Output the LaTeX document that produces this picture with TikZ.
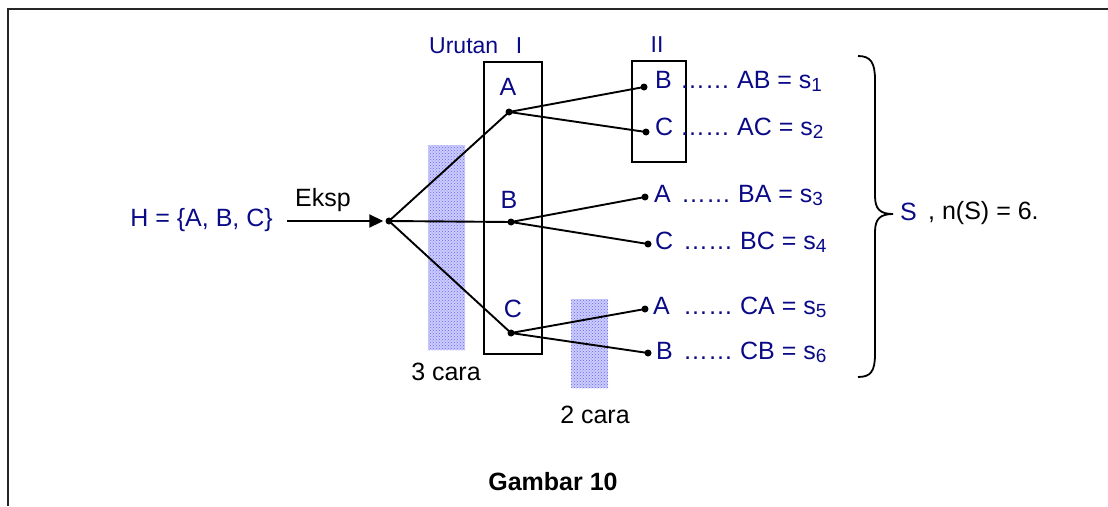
\documentclass[tikz,border=0pt]{standalone}
\usepackage{fontspec}
\setmainfont{Liberation Sans}
\usetikzlibrary{patterns,arrows.meta}
\definecolor{navy}{RGB}{10,10,135}
\definecolor{bandfill}{RGB}{205,205,250}
% lowered small digit for the outcome indices
\newcommand{\idx}[1]{\raisebox{-3pt}{\fontsize{19}{19}\selectfont #1}}

\begin{document}
\begin{tikzpicture}[x=1pt,y=-1pt,
  txt/.style={font=\fontsize{25}{30}\selectfont, inner sep=0pt},
  lbl/.style={txt, text=navy},
  link/.style={line width=1.9pt},
  dot/.style={circle, fill=black, inner sep=0pt, minimum size=7pt},
  stage/.style={draw, line width=1.5pt, inner sep=0pt},
  frame/.style={line width=1.8pt, draw=black!85}]

\useasboundingbox (0,0) rectangle (1108,506);

% outer frame (top and left sides)
\draw[frame] (8,506) -- (8,9) -- (1108,9);

% shaded bands marking the number of choices
\fill[bandfill] (428,145) rectangle (465,350);
\fill[pattern=crosshatch dots, pattern color=blue!60] (428,145) rectangle (465,350);
\fill[bandfill] (571,299) rectangle (608,388);
\fill[pattern=crosshatch dots, pattern color=blue!60] (571,299) rectangle (608,388);

% stage boxes
\node[stage, minimum width=58pt, minimum height=292pt] (box1) at (513,208) {};
\node[stage, minimum width=54pt, minimum height=101pt] (box2) at (659,111.5) {};

% headings
\node[lbl, font=\fontsize{23}{28}\selectfont, anchor=base west] (urutan) at (429,53) {Urutan};
\node[lbl, font=\fontsize{23}{28}\selectfont, anchor=base] (one) at (519,53) {I};
\node[lbl, font=\fontsize{23}{28}\selectfont, anchor=base] (two) at (657,52) {II};

% experiment
\node[lbl, anchor=base east] (H) at (273,226) {H = \{A, B, C\}};
\node[txt, anchor=base] (eksp) at (323,206) {Eksp};
\coordinate (start) at (287,221);

% tree nodes
\node[dot] (r) at (389,221) {};
\node[dot] (a1) at (509,112) {};
\node[dot] (b1) at (511,222) {};
\node[dot] (c1) at (511,333) {};

\node[dot] (ab) at (644,87) {};
\node[dot] (ac) at (646,132) {};
\node[dot] (ba) at (645,197) {};
\node[dot] (bc) at (648,244) {};
\node[dot] (ca) at (645,309) {};
\node[dot] (cb) at (648,353) {};

% first-stage letters
\node[lbl, anchor=base] (lA) at (508,95) {A};
\node[lbl, anchor=base] (lB) at (509,208) {B};
\node[lbl, anchor=base] (lC) at (513,317) {C};

% connectors
\draw[link, -{Triangle[length=14pt, width=13pt]}, shorten >=2pt] (start) -- (r);
\draw[link] (r.center) -- (a1.center);
\draw[link] (r.center) -- (b1.center);
\draw[link] (r.center) -- (c1.center);
\draw[link] (a1.center) -- (ab.center);
\draw[link] (a1.center) -- (ac.center);
\draw[link] (b1.center) -- (ba.center);
\draw[link] (b1.center) -- (bc.center);
\draw[link] (c1.center) -- (ca.center);
\draw[link] (c1.center) -- (cb.center);

% second-stage letters
\node[lbl, anchor=base west] (sB1) at (655,88)  {B};
\node[lbl, anchor=base west] (sC1) at (655,135) {C};
\node[lbl, anchor=base west] (sA2) at (654,202) {A};
\node[lbl, anchor=base west] (sC2) at (655,249) {C};
\node[lbl, anchor=base west] (sA3) at (653,314) {A};
\node[lbl, anchor=base west] (sB3) at (656,359) {B};

% resulting outcomes
\node[lbl, anchor=base west] (oAB) at (680,88)  {…… AB = s\idx{1}};
\node[lbl, anchor=base west] (oAC) at (680,135) {…… AC = s\idx{2}};
\node[lbl, anchor=base west] (oBA) at (681,202) {…… BA = s\idx{3}};
\node[lbl, anchor=base west] (oBC) at (683,249) {…… BC = s\idx{4}};
\node[lbl, anchor=base west] (oCA) at (683,314) {…… CA = s\idx{5}};
\node[lbl, anchor=base west] (oCB) at (683,359) {…… CB = s\idx{6}};

% brace gathering the sample space
\draw[line width=1.8pt]
  (858,56) .. controls (871,56) and (875,63) .. (875,80) -- (875,196)
  .. controls (875,209) and (880,214) .. (893,214)
  .. controls (880,214) and (875,219) .. (875,232) -- (875,354)
  .. controls (875,371) and (871,377) .. (858,377);

\node[lbl, anchor=base west] (S) at (900,220) {S};
\node[txt, anchor=base west] (nS) at (928,219) {, n(S) = 6.};

% counts
\node[txt, anchor=base] (three) at (446,380) {3 cara};
\node[txt, anchor=base] (twoc) at (595,423) {2 cara};

% caption
\node[txt, font=\fontsize{25}{30}\selectfont\bfseries, anchor=base] (cap) at (553,490) {Gambar 10};
\end{tikzpicture}
\end{document}
